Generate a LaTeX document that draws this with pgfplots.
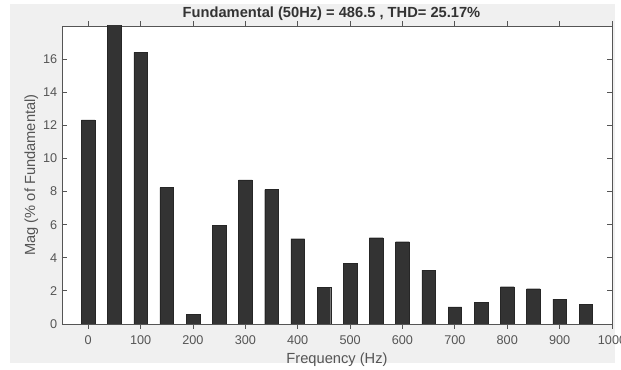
\documentclass[border=0pt]{standalone}
\usepackage{pgfplots}
\pgfplotsset{compat=1.18}
\usepackage{fontspec}
\setmainfont{Liberation Sans}
\definecolor{figbg}{HTML}{F0F0F0}
\definecolor{axcol}{HTML}{555555}
\definecolor{barcol}{HTML}{333333}
\begin{document}
\begin{tikzpicture}
\useasboundingbox (0,0) rectangle (465.75pt,277.5pt);
\fill[white] (0,0) rectangle (465.75pt,277.5pt);
\fill[figbg] (7.5pt,5.25pt) rectangle (461.25pt,274.5pt);
\begin{axis}[
  at={(46.5pt,34.5pt)}, anchor=south west,
  scale only axis, width=412.5pt, height=223.5pt,
  xmin=-50, xmax=1000, ymin=0, ymax=18,
  xtick={0,100,...,1000}, ytick={0,2,...,16},
  tick align=inside, xtick pos=both, ytick pos=both,
  major tick length=3.5pt,
  axis line style={axcol, line width=0.6pt},
  every tick/.style={axcol, line width=0.6pt},
  tick label style={font=\fontsize{9.5}{11}\selectfont, text=axcol},
  xticklabel style={yshift=-1.5pt},
  /pgf/number format/assume math mode=true,
  /pgf/number format/1000 sep={},
  xlabel={Frequency (Hz)}, ylabel={Mag (\% of Fundamental)},
  label style={font=\fontsize{11}{13}\selectfont, text=axcol},
  xlabel style={at={(axis description cs:0.5,0)}, anchor=base, yshift=-30pt},
  ylabel style={yshift=-3pt},
  every axis title shift=0pt,
  title={Fundamental (50Hz) = 486.5 , THD= 25.17\%},
  title style={font=\bfseries\fontsize{11}{13}\selectfont, text=black!80, at={(axis description cs:0.49,1)}, anchor=base, yshift=6pt},
  axis background/.style={fill=white},
  ybar, bar width=26,
]
\addplot[fill=barcol, draw=black!85, line width=0.3pt] coordinates {
(0,12.33) (50,100) (100,16.4) (150,8.24) (200,0.58) (250,5.97)
(300,8.70) (350,8.12) (400,5.15) (450,2.2) (500,3.65) (550,5.21)
(600,4.97) (650,3.25) (700,1.04) (750,1.30) (800,2.25) (850,2.13)
(900,1.50) (950,1.20)
};
\end{axis}
\end{tikzpicture}
\end{document}
